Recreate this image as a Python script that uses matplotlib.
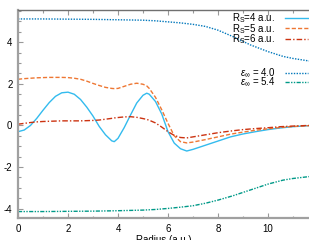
import numpy as np
import matplotlib
matplotlib.use("Agg")
import matplotlib.pyplot as plt
from matplotlib.ticker import MultipleLocator

plt.rcParams['font.family'] = ['Liberation Sans', 'DejaVu Sans']
plt.rcParams['mathtext.fontset'] = 'custom'
plt.rcParams['mathtext.rm'] = 'Liberation Sans'
plt.rcParams['mathtext.it'] = 'Liberation Sans:italic'
plt.rcParams['axes.unicode_minus'] = False

# radius grid for the R_S curves (a.u.)
r = [0.0, 0.25, 0.5, 0.75, 1.0, 1.25, 1.5, 1.75, 2.0, 2.25, 2.5, 2.75, 3.0,
     3.25, 3.5, 3.75, 3.85, 4.0, 4.25, 4.5, 4.75, 5.0, 5.15, 5.25, 5.5, 5.75,
     6.0, 6.25, 6.5, 6.75, 7.0, 7.5, 8.0, 8.5, 9.0, 9.5, 10.0, 10.5, 11.0, 11.64]

rs4 = [-0.30, -0.22, 0.00, 0.34, 0.73, 1.10, 1.40, 1.57, 1.60, 1.50, 1.25, 0.88, 0.45,
       -0.05, -0.45, -0.74, -0.78, -0.62, -0.10, 0.50, 1.08, 1.45, 1.55, 1.50, 1.15, 0.55,
       -0.30, -0.85, -1.12, -1.23, -1.15, -0.95, -0.75, -0.55, -0.41, -0.30, -0.20, -0.12, -0.06, -0.01]

rs5 = [2.22, 2.25, 2.27, 2.29, 2.30, 2.31, 2.31, 2.31, 2.30, 2.27, 2.22, 2.13, 2.02,
       1.92, 1.83, 1.78, 1.77, 1.78, 1.88, 1.98, 2.03, 1.98, 1.90, 1.78, 1.35, 0.75,
       0.10, -0.50, -0.78, -0.84, -0.80, -0.68, -0.55, -0.42, -0.32, -0.23, -0.16, -0.10, -0.05, -0.01]

rs6 = [0.06, 0.10, 0.14, 0.17, 0.19, 0.20, 0.21, 0.22, 0.22, 0.22, 0.22, 0.23, 0.24,
       0.26, 0.30, 0.34, 0.36, 0.38, 0.41, 0.42, 0.39, 0.33, 0.29, 0.25, 0.12, -0.08,
       -0.30, -0.48, -0.58, -0.60, -0.55, -0.45, -0.35, -0.27, -0.20, -0.15, -0.11, -0.06, -0.03, 0.00]

# radius grid for the epsilon curves
r_eps = [0.0, 1.0, 2.0, 3.0, 4.0, 5.0, 5.5, 6.0, 6.5, 7.0, 7.5, 8.0, 8.6,
         9.3, 10.0, 10.6, 11.0, 11.64]
eps40 = [5.12, 5.12, 5.11, 5.10, 5.08, 5.06, 5.03, 4.98, 4.93, 4.86, 4.76, 4.58, 4.27,
         3.87, 3.55, 3.32, 3.22, 3.10]
eps54 = [-4.14, -4.14, -4.13, -4.12, -4.10, -4.07, -4.04, -3.99, -3.93, -3.86, -3.74, -3.59, -3.38,
         -3.10, -2.82, -2.63, -2.55, -2.46]

fig = plt.figure(figsize=(3.09, 2.40), dpi=100)
ax = fig.add_axes([18 / 309, 22 / 240, 1 - 18 / 309, 208 / 240])

l1, = ax.plot(r, rs4, color='#33BBEE', lw=1.0, ls='-', label='R$_\\mathrm{S}$=4 a.u.')
l2, = ax.plot(r, rs5, color='#EE7733', lw=1.0, ls=(0, (3, 1.5)), label='R$_\\mathrm{S}$=5 a.u.')
l3, = ax.plot(r, rs6, color='#CC3311', lw=1.0, ls=(0, (4, 1.5, 1, 1.5)), label='R$_\\mathrm{S}$=6 a.u.')
l4, = ax.plot(r_eps, eps40, color='#0077BB', lw=1.0, ls=(0, (1, 1)), label='$\\varepsilon_\\infty$ = 4.0')
l5, = ax.plot(r_eps, eps54, color='#009988', lw=1.0, ls=(0, (3, 1, 1, 1, 1, 1)), label='$\\varepsilon_\\infty$ = 5.4')

ax.set_xlim(0, 11.64)
ax.set_ylim(-4.45, 5.55)
ax.xaxis.set_major_locator(MultipleLocator(2))
ax.xaxis.set_minor_locator(MultipleLocator(1))
ax.yaxis.set_major_locator(MultipleLocator(2))
ax.yaxis.set_minor_locator(MultipleLocator(0.5))
ax.tick_params(which='both', direction='in', top=True, right=False, colors='#999999',
               labelcolor='black', labelsize=7)
ax.tick_params(which='major', length=3.5, width=0.8, pad=4)
ax.tick_params(which='minor', length=1.8, width=0.8)

ax.spines['right'].set_visible(False)
ax.spines['left'].set_color('#a0a0a0')
ax.spines['left'].set_linewidth(1.6)
ax.spines['bottom'].set_color('#a0a0a0')
ax.spines['bottom'].set_linewidth(1.6)
ax.spines['top'].set_color('#707070')
ax.spines['top'].set_linewidth(1.0)

ax.set_xlabel('Radius (a.u.)', fontsize=7)
ax.xaxis.set_label_coords(0.5, -0.08)
ax.xaxis.label.set_va('top')

leg1 = ax.legend(handles=[l1, l2, l3], loc='upper right', bbox_to_anchor=(1.0, 1.0),
                 frameon=False, fontsize=7, markerfirst=False, handlelength=2.3,
                 handletextpad=1.0, labelspacing=-0.35, borderaxespad=0.05, borderpad=0.1)
ax.add_artist(leg1)
ax.legend(handles=[l4, l5], loc='upper right', bbox_to_anchor=(1.0, 0.735),
          frameon=False, fontsize=7, markerfirst=False, handlelength=2.3,
          handletextpad=1.0, labelspacing=-0.35, borderaxespad=0.05, borderpad=0.1)

fig.savefig('out.png', dpi=100)
